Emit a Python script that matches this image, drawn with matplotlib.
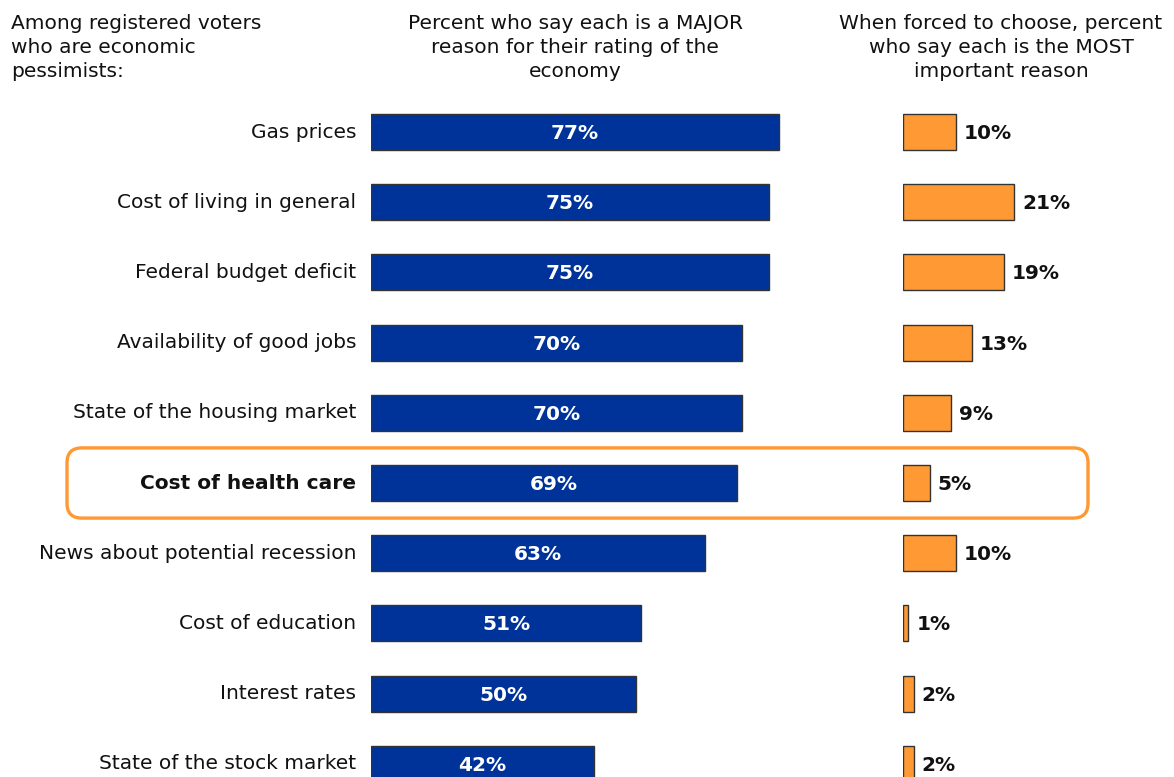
import matplotlib
matplotlib.use("Agg")
import matplotlib.pyplot as plt
from matplotlib.patches import FancyBboxPatch

categories = [
    "Gas prices",
    "Cost of living in general",
    "Federal budget deficit",
    "Availability of good jobs",
    "State of the housing market",
    "Cost of health care",
    "News about potential recession",
    "Cost of education",
    "Interest rates",
    "State of the stock market",
]
major_reason = [77, 75, 75, 70, 70, 69, 63, 51, 50, 42]
most_important = [10, 21, 19, 13, 9, 5, 10, 1, 2, 2]
highlight = "Cost of health care"

header_left = "Among registered voters\nwho are economic\npessimists:"
header_mid = "Percent who say each is a MAJOR\nreason for their rating of the\neconomy"
header_right = "When forced to choose, percent\nwho say each is the MOST\nimportant reason"

BLUE = "#003399"
ORANGE = "#FF9933"
EDGE = "#333333"

W, H = 1174, 777
fig = plt.figure(figsize=(W / 100, H / 100), dpi=100)
plt.rcParams["font.family"] = "DejaVu Sans"

px_per_pct = 5.3
row_px = 70.2
first_row_px = 132
y_top = -first_row_px / row_px
y_bot = (H - first_row_px) / row_px

blue_left, blue_span = 371, 100
ax1 = fig.add_axes([blue_left / W, 0, blue_span * px_per_pct / W, 1])
ax1.set_xlim(0, blue_span)
ax1.set_ylim(y_bot, y_top)
ax1.axis("off")

orange_left, orange_span = 903, 50
ax2 = fig.add_axes([orange_left / W, 0, orange_span * px_per_pct / W, 1])
ax2.set_xlim(0, orange_span)
ax2.set_ylim(y_bot, y_top)
ax2.axis("off")

rows = list(range(len(categories)))
bar_h = 0.51

ax1.barh(rows, major_reason, height=bar_h, color=BLUE, edgecolor=EDGE, linewidth=1.0)
ax2.barh(rows, most_important, height=bar_h, color=ORANGE, edgecolor=EDGE, linewidth=1.0)

fs = 14.5
for i, (cat, v1, v2) in enumerate(zip(categories, major_reason, most_important)):
    ax1.text(-2.8, i, cat, ha="right", va="center", fontsize=fs,
             fontweight="bold" if cat == highlight else "normal", color="#111111")
    ax1.text(v1 / 2, i + 0.02, f"{v1}%", ha="center", va="center", fontsize=fs,
             fontweight="bold", color="white")
    ax2.text(v2 + 1.5, i + 0.02, f"{v2}%", ha="left", va="center", fontsize=fs,
             fontweight="bold", color="#111111")

# rounded outline around the highlighted row
hi = categories.index(highlight)
x0 = (67 - blue_left) / px_per_pct
x1 = (1088 - blue_left) / px_per_pct
box = FancyBboxPatch((x0, hi - 0.5), x1 - x0, 1.0,
                     boxstyle="round,pad=0,rounding_size=2.8",
                     mutation_aspect=px_per_pct / row_px,
                     fill=False, edgecolor=ORANGE, linewidth=2.4,
                     clip_on=False, zorder=5)
ax1.add_patch(box)

head_kw = dict(va="top", fontsize=fs, color="#111111", linespacing=1.33)
fig.text(11 / W, 1 - 14 / H, header_left, ha="left", **head_kw)
fig.text(575 / W, 1 - 14 / H, header_mid, ha="center", multialignment="center", **head_kw)
fig.text(1001 / W, 1 - 14 / H, header_right, ha="center", multialignment="center", **head_kw)

fig.savefig("out.png", dpi=100, facecolor="white")
